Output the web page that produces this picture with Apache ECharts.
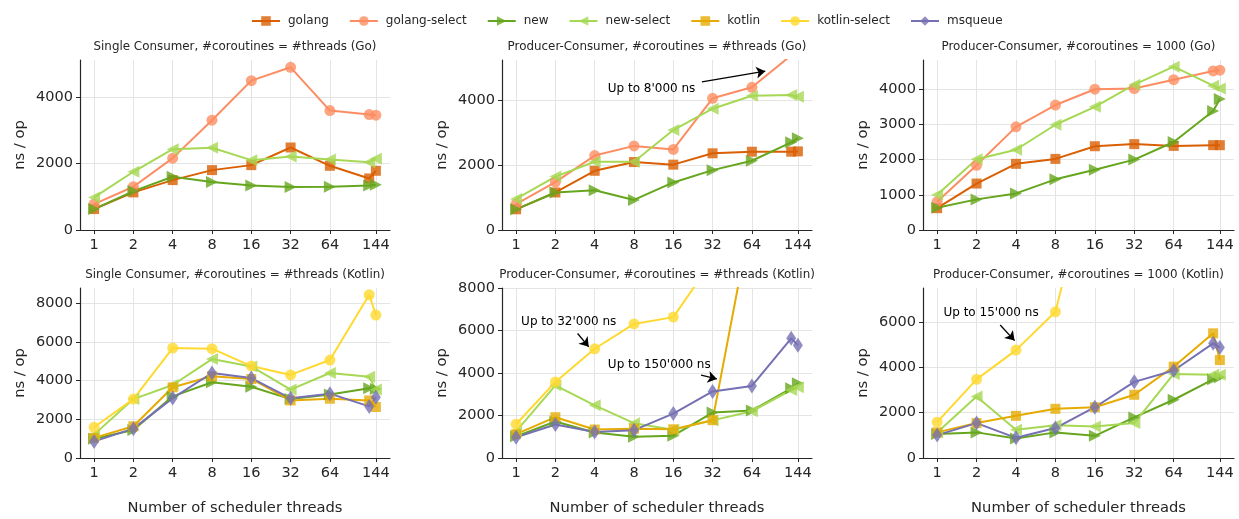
<!DOCTYPE html>
<html>
<head>
<meta charset="utf-8">
<script src="https://cdn.jsdelivr.net/npm/echarts@6/dist/echarts.min.js"></script>
<style>
  html, body { margin: 0; padding: 0; background: #fff; }
  #chart { width: 1239px; height: 519px; }
</style>
</head>
<body>
<div id="chart"></div>
<script>
const threads = [1, 2, 4, 8, 16, 32, 64, 128, 144];
const xTickValues = [1, 2, 4, 8, 16, 32, 64, 144];
const yTicks2k = [0, 2000, 4000];
const yTicks1k = [0, 1000, 2000, 3000, 4000];
const yTicks8k = [0, 2000, 4000, 6000, 8000];
const yTicks6k = [0, 2000, 4000, 6000];

// Single Consumer, #coroutines = #threads (Go)
const scGoGolang = [630, 1130, 1500, 1800, 1950, 2480, 1930, 1550, 1780];
const scGoGolangSelect = [780, 1300, 2160, 3300, 4490, 4890, 3590, 3470, 3450];
const scGoNew = [630, 1170, 1600, 1440, 1340, 1290, 1300, 1340, 1360];
const scGoNewSelect = [980, 1750, 2430, 2470, 2100, 2210, 2120, 2040, 2140];

// Producer-Consumer, #coroutines = #threads (Go)
const pcGoGolang = [640, 1160, 1830, 2100, 2020, 2370, 2420, 2420, 2430];
const pcGoGolangSelect = [800, 1480, 2300, 2600, 2490, 4070, 4410, 5400, 8000];
const pcGoNew = [640, 1160, 1230, 930, 1470, 1850, 2140, 2710, 2840];
const pcGoNewSelect = [960, 1650, 2110, 2110, 3090, 3750, 4150, 4170, 4120];

// Producer-Consumer, #coroutines = 1000 (Go)
const pkGoGolang = [620, 1320, 1880, 2020, 2380, 2440, 2390, 2410, 2410];
const pkGoGolangSelect = [800, 1840, 2930, 3550, 4000, 4020, 4270, 4520, 4540];
const pkGoNew = [630, 870, 1040, 1440, 1710, 2000, 2500, 3380, 3720];
const pkGoNewSelect = [1000, 2010, 2280, 2990, 3500, 4130, 4640, 4100, 4020];

// Single Consumer, #coroutines = #threads (Kotlin)
const scKtKotlin = [1040, 1640, 3660, 4230, 4090, 2980, 3070, 2980, 2640];
const scKtKotlinSelect = [1590, 3050, 5690, 5660, 4760, 4300, 5070, 8450, 7400];
const scKtNew = [1000, 1450, 3190, 3920, 3690, 3050, 3290, 3610, 3570];
const scKtNewSelect = [1210, 3050, 3780, 5120, 4740, 3540, 4400, 4210, 3540];
const scKtMsqueue = [860, 1520, 3100, 4400, 4140, 3090, 3330, 2670, 3140];

// Producer-Consumer, #coroutines = #threads (Kotlin)
const pcKtKotlin = [1120, 1920, 1340, 1380, 1350, 1780, 11500, 150000, 120000];
const pcKtKotlinSelect = [1590, 3580, 5140, 6310, 6630, 9300, 20000, 32000, 30000];
const pcKtNew = [1020, 1720, 1200, 1000, 1050, 2140, 2230, 3280, 3520];
const pcKtNewSelect = [1250, 3420, 2480, 1640, 1330, 1770, 2200, 3200, 3330];
const pcKtMsqueue = [980, 1580, 1220, 1310, 2090, 3130, 3390, 5630, 5310];

// Producer-Consumer, #coroutines = 1000 (Kotlin)
const pkKtKotlin = [1130, 1540, 1860, 2170, 2240, 2790, 4030, 5500, 4320];
const pkKtKotlinSelect = [1580, 3470, 4760, 6450, 13400, 15000, 14000, 15000, 14500];
const pkKtNew = [1060, 1130, 860, 1130, 980, 1790, 2570, 3470, 3560];
const pkKtNewSelect = [1130, 2710, 1250, 1440, 1390, 1540, 3710, 3670, 3670];
const pkKtMsqueue = [1010, 1540, 890, 1320, 2240, 3360, 3860, 5060, 4870];

const legendNames = ['golang', 'golang-select', 'new', 'new-select', 'kotlin', 'kotlin-select', 'msqueue'];

const panels = [
  { title: 'Single Consumer, #coroutines = #threads (Go)', yMax: 5110, ticks: yTicks2k,
    lines: { 'golang': scGoGolang, 'golang-select': scGoGolangSelect, 'new': scGoNew, 'new-select': scGoNewSelect } },
  { title: 'Producer-Consumer, #coroutines = #threads (Go)', yMax: 5255, ticks: yTicks2k,
    lines: { 'golang': pcGoGolang, 'golang-select': pcGoGolangSelect, 'new': pcGoNew, 'new-select': pcGoNewSelect } },
  { title: 'Producer-Consumer, #coroutines = 1000 (Go)', yMax: 4830, ticks: yTicks1k,
    lines: { 'golang': pkGoGolang, 'golang-select': pkGoGolangSelect, 'new': pkGoNew, 'new-select': pkGoNewSelect } },
  { title: 'Single Consumer, #coroutines = #threads (Kotlin)', yMax: 8800, ticks: yTicks8k,
    lines: { 'new': scKtNew, 'new-select': scKtNewSelect, 'kotlin': scKtKotlin, 'kotlin-select': scKtKotlinSelect, 'msqueue': scKtMsqueue } },
  { title: 'Producer-Consumer, #coroutines = #threads (Kotlin)', yMax: 8000, ticks: yTicks8k,
    lines: { 'new': pcKtNew, 'new-select': pcKtNewSelect, 'kotlin': pcKtKotlin, 'kotlin-select': pcKtKotlinSelect, 'msqueue': pcKtMsqueue } },
  { title: 'Producer-Consumer, #coroutines = 1000 (Kotlin)', yMax: 7500, ticks: yTicks6k,
    lines: { 'new': pkKtNew, 'new-select': pkKtNewSelect, 'kotlin': pkKtKotlin, 'kotlin-select': pkKtKotlinSelect, 'msqueue': pkKtMsqueue } },
];

// annotations: [panel, text, text position, arrow start, arrow end]
const notes = [
  [1, "Up to 8'000 ns", [10.9, 4360], [26.5, 4580], [81, 4910]],
  [4, "Up to 32'000 ns", [2.53, 6400], [2.96, 5860], [3.6, 5230]],
  [4, "Up to 150'000 ns", [12.5, 4380], [26.1, 3900], [34.5, 3720]],
  [5, "Up to 15'000 ns", [2.58, 6390], [3.03, 5870], [3.9, 5180]],
];

const diamond = 'path://M0,-10 L6,0 L0,10 L-6,0 Z';
const looks = {
  'golang':        { color: '#d95f02', symbol: 'rect', size: 10 },
  'golang-select': { color: '#fc8d62', symbol: 'circle', size: 11 },
  'new':           { color: '#66a61e', symbol: 'triangle', size: 12, rotate: -90 },
  'new-select':    { color: '#a6d854', symbol: 'triangle', size: 12, rotate: 90 },
  'kotlin':        { color: '#e6ab02', symbol: 'rect', size: 10 },
  'kotlin-select': { color: '#ffd92f', symbol: 'circle', size: 11 },
  'msqueue':       { color: '#7570b3', symbol: diamond, size: [10, 15] },
};

const boxes = [
  [80, 60, 310, 170], [502, 60, 310, 170], [923, 60, 311, 170],
  [80, 288, 310, 170], [502, 288, 310, 170], [923, 288, 311, 170],
];

const font = 'DejaVu Sans';
const ink = '#262626';

const grids = [], xAxes = [], yAxes = [], series = [], graphics = [];

panels.forEach((p, i) => {
  const [left, top, width, height] = boxes[i];
  grids.push({ left, top, width, height, containLabel: false });
  xAxes.push({
    type: 'log', logBase: 2, gridIndex: i, min: 0.78, max: 184.7,
    name: i >= 3 ? 'Number of scheduler threads' : '',
    nameLocation: 'middle', nameGap: 43,
    nameTextStyle: { fontFamily: font, fontSize: 14.7, color: ink },
    axisLine: { show: true, lineStyle: { color: ink, width: 1.2 } },
    axisTick: { show: true, length: 4, customValues: xTickValues, lineStyle: { color: ink } },
    axisLabel: { customValues: xTickValues, margin: 8, fontFamily: font, fontSize: 14.5, color: ink,
      formatter: v => String(Math.round(v)) },
    splitLine: { show: true, lineStyle: { color: '#e4e4e4', width: 1 } },
    minorTick: { show: false },
  });
  yAxes.push({
    type: 'value', gridIndex: i, min: 0, max: p.yMax,
    name: 'ns / op', nameLocation: 'middle', nameRotate: 90, nameGap: 52,
    nameTextStyle: { fontFamily: font, fontSize: 14.7, color: ink },
    axisLine: { show: true, lineStyle: { color: ink, width: 1.2 } },
    axisTick: { show: true, length: 4, customValues: p.ticks, lineStyle: { color: ink } },
    axisLabel: { customValues: p.ticks, margin: 7, fontFamily: font, fontSize: 14.5, color: ink,
      formatter: v => String(v) },
    splitLine: { show: true, lineStyle: { color: '#e4e4e4', width: 1 } },
  });
  graphics.push({
    type: 'text', x: left + width / 2, y: top - 13,
    style: { text: p.title, fontFamily: font, fontSize: 11.9, fill: ink, align: 'center', verticalAlign: 'middle' },
  });

  Object.entries(p.lines).forEach(([name, values]) => {
    const look = looks[name];
    const s = {
      type: 'line', name, xAxisIndex: i, yAxisIndex: i,
      data: threads.map((t, k) => [t, values[k]]),
      symbol: look.symbol, symbolSize: look.size, symbolRotate: look.rotate || 0,
      showAllSymbol: true, clip: true,
      lineStyle: { color: look.color, width: 2 },
      itemStyle: { color: look.color, opacity: 0.8 },
      emphasis: { disabled: true },
      z: 2,
    };
    const mine = notes.filter(n => n[0] === i);
    if (mine.length && name === Object.keys(p.lines)[0]) {
      s.markLine = {
        silent: true, symbol: ['none', 'arrow'], symbolSize: 9,
        lineStyle: { color: '#000', width: 1.3, type: 'solid', opacity: 1 },
        itemStyle: { color: '#000' },
        label: { show: false },
        emphasis: { disabled: true },
        data: mine.map(n => [{ coord: n[3] }, { coord: n[4] }]),
      };
      s.markPoint = {
        silent: true, symbol: 'circle', symbolSize: 1,
        itemStyle: { color: 'rgba(0,0,0,0)' },
        label: { show: true, position: 'inside', color: '#000', fontFamily: font, fontSize: 12,
          formatter: prm => prm.name },
        data: mine.map(n => ({ name: n[1], coord: n[2] })),
      };
    }
    series.push(s);
  });
});

const chart = echarts.init(document.getElementById('chart'), null, { renderer: 'canvas' });
chart.setOption({
  animation: false,
  color: legendNames.map(n => looks[n].color),
  legend: {
    data: legendNames, left: 246, top: 10,
    itemWidth: 28, itemHeight: 12, itemGap: 20,
    textStyle: { fontFamily: font, fontSize: 12, color: ink, padding: [0, 0, 0, 3] },
  },
  grid: grids,
  xAxis: xAxes,
  yAxis: yAxes,
  series,
  graphic: graphics,
});
</script>
</body>
</html>
